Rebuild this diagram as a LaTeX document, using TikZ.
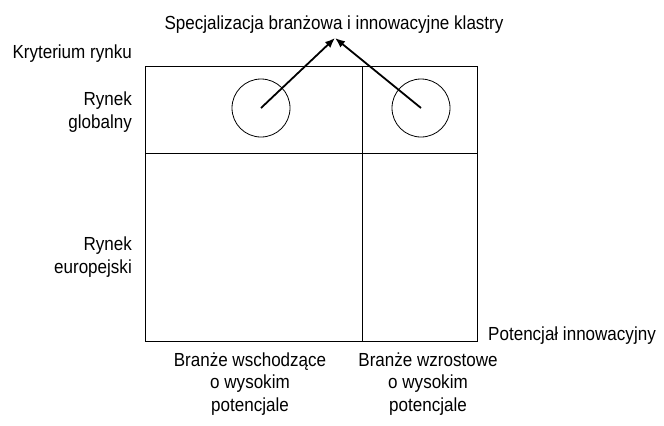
\documentclass[tikz,border=0pt]{standalone}
\usepackage{fontspec}
\setmainfont{Liberation Sans}[FakeStretch=0.9]
\usetikzlibrary{arrows.meta, positioning}

\begin{document}
\begin{tikzpicture}[x=1bp, y=-1bp, font=\fontsize{19}{22.5}\selectfont, >={Latex[length=10bp,width=8bp]}]
\tikzset{label/.style={inner sep=0pt, align=center}, ring/.style={circle, draw, line width=0.8pt, minimum size=58bp, inner sep=0pt}}
\useasboundingbox (0,0) rectangle (664,425);

% matrix frame
\coordinate (nw) at (145,66);
\coordinate (se) at (477,341);
\coordinate (midl) at (145,153);
\coordinate (midr) at (477,153);
\coordinate (divt) at (362,66);
\coordinate (divb) at (362,341);
\draw[line width=0.8pt] (nw) rectangle (se);
\draw[line width=0.8pt] (midl) -- (midr);
\draw[line width=0.8pt] (divt) -- (divb);

\node[ring] (c1) at (261,108) {};
\node[ring] (c2) at (421,108) {};

\node[label] (title) at (334,25) {Specjalizacja branżowa i innowacyjne klastry};
\coordinate (tip) at (335,38);
\draw[->, line width=1.8pt] (c1.center) -- (tip);
\draw[->, line width=1.8pt] (c2.center) -- (tip);

\node[label, anchor=east] (kryt) at (132,54) {Kryterium rynku};
\node[label, anchor=east, align=right] (glob) at (132,112) {Rynek\\globalny};
\node[label, anchor=east, align=right] (euro) at (132,257) {Rynek\\europejski};
\node[label, anchor=west] (pot) at (488,336) {Potencjał innowacyjny};
\node[label] (wsch) at (250,384) {Branże wschodzące\\o wysokim\\potencjale};
\node[label] (wzr) at (428,384) {Branże wzrostowe\\o wysokim\\potencjale};
\end{tikzpicture}
\end{document}
